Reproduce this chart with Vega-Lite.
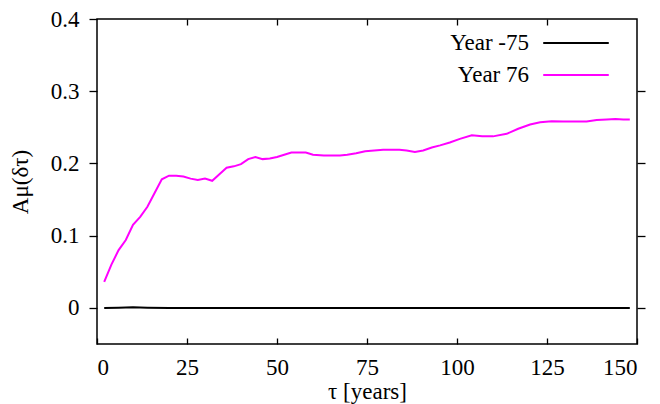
{
  "$schema": "https://vega.github.io/schema/vega-lite/v6.json",
  "width": 540,
  "height": 325,
  "autosize": {"type": "none"},
  "padding": {"left": 97, "top": 19, "right": 23, "bottom": 60},
  "background": "white",
  "config": {
    "font": "Liberation Serif",
    "view": {"stroke": "black", "strokeWidth": 1.5},
    "axis": {
      "domain": false,
      "grid": false,
      "tickColor": "black",
      "tickWidth": 1.3,
      "labelFont": "Liberation Serif",
      "labelFontSize": 23,
      "labelColor": "black",
      "titleFont": "Liberation Serif",
      "titleFontSize": 23,
      "titleFontWeight": "normal",
      "titleColor": "black"
    },
    "legend": {"labelFont": "Liberation Serif"}
  },
  "datasets": {
    "curves": [
      {"tau": 2, "A": 0.0, "series": "Year -75"},
      {"tau": 6, "A": 0.0003, "series": "Year -75"},
      {"tau": 10, "A": 0.0008, "series": "Year -75"},
      {"tau": 14, "A": 0.0003, "series": "Year -75"},
      {"tau": 20, "A": 0.0, "series": "Year -75"},
      {"tau": 40, "A": 0.0, "series": "Year -75"},
      {"tau": 60, "A": 0.0, "series": "Year -75"},
      {"tau": 80, "A": 0.0, "series": "Year -75"},
      {"tau": 100, "A": 0.0, "series": "Year -75"},
      {"tau": 120, "A": 0.0, "series": "Year -75"},
      {"tau": 148, "A": 0.0, "series": "Year -75"},
      {"tau": 2, "A": 0.036, "series": "Year 76"},
      {"tau": 4, "A": 0.060, "series": "Year 76"},
      {"tau": 6, "A": 0.080, "series": "Year 76"},
      {"tau": 8, "A": 0.094, "series": "Year 76"},
      {"tau": 10, "A": 0.115, "series": "Year 76"},
      {"tau": 12, "A": 0.126, "series": "Year 76"},
      {"tau": 14, "A": 0.140, "series": "Year 76"},
      {"tau": 16, "A": 0.159, "series": "Year 76"},
      {"tau": 18, "A": 0.178, "series": "Year 76"},
      {"tau": 20, "A": 0.183, "series": "Year 76"},
      {"tau": 22, "A": 0.183, "series": "Year 76"},
      {"tau": 24, "A": 0.182, "series": "Year 76"},
      {"tau": 26, "A": 0.179, "series": "Year 76"},
      {"tau": 28, "A": 0.177, "series": "Year 76"},
      {"tau": 30, "A": 0.179, "series": "Year 76"},
      {"tau": 32, "A": 0.176, "series": "Year 76"},
      {"tau": 34, "A": 0.185, "series": "Year 76"},
      {"tau": 36, "A": 0.194, "series": "Year 76"},
      {"tau": 38, "A": 0.196, "series": "Year 76"},
      {"tau": 40, "A": 0.199, "series": "Year 76"},
      {"tau": 42, "A": 0.206, "series": "Year 76"},
      {"tau": 44, "A": 0.209, "series": "Year 76"},
      {"tau": 46, "A": 0.206, "series": "Year 76"},
      {"tau": 48, "A": 0.207, "series": "Year 76"},
      {"tau": 50, "A": 0.209, "series": "Year 76"},
      {"tau": 52, "A": 0.212, "series": "Year 76"},
      {"tau": 54, "A": 0.215, "series": "Year 76"},
      {"tau": 56, "A": 0.215, "series": "Year 76"},
      {"tau": 58, "A": 0.215, "series": "Year 76"},
      {"tau": 60, "A": 0.212, "series": "Year 76"},
      {"tau": 63, "A": 0.211, "series": "Year 76"},
      {"tau": 65, "A": 0.211, "series": "Year 76"},
      {"tau": 67.5, "A": 0.211, "series": "Year 76"},
      {"tau": 69.5, "A": 0.212, "series": "Year 76"},
      {"tau": 72, "A": 0.214, "series": "Year 76"},
      {"tau": 74.5, "A": 0.217, "series": "Year 76"},
      {"tau": 77, "A": 0.218, "series": "Year 76"},
      {"tau": 79.5, "A": 0.219, "series": "Year 76"},
      {"tau": 82, "A": 0.219, "series": "Year 76"},
      {"tau": 84, "A": 0.219, "series": "Year 76"},
      {"tau": 86, "A": 0.218, "series": "Year 76"},
      {"tau": 88.3, "A": 0.216, "series": "Year 76"},
      {"tau": 90.6, "A": 0.218, "series": "Year 76"},
      {"tau": 93, "A": 0.222, "series": "Year 76"},
      {"tau": 95.3, "A": 0.225, "series": "Year 76"},
      {"tau": 98, "A": 0.229, "series": "Year 76"},
      {"tau": 100.8, "A": 0.234, "series": "Year 76"},
      {"tau": 104.1, "A": 0.239, "series": "Year 76"},
      {"tau": 107, "A": 0.2375, "series": "Year 76"},
      {"tau": 110, "A": 0.2375, "series": "Year 76"},
      {"tau": 113.8, "A": 0.241, "series": "Year 76"},
      {"tau": 117, "A": 0.248, "series": "Year 76"},
      {"tau": 120.3, "A": 0.254, "series": "Year 76"},
      {"tau": 123.1, "A": 0.257, "series": "Year 76"},
      {"tau": 126.3, "A": 0.2585, "series": "Year 76"},
      {"tau": 129.5, "A": 0.258, "series": "Year 76"},
      {"tau": 132.8, "A": 0.258, "series": "Year 76"},
      {"tau": 136, "A": 0.258, "series": "Year 76"},
      {"tau": 138.8, "A": 0.260, "series": "Year 76"},
      {"tau": 141.6, "A": 0.261, "series": "Year 76"},
      {"tau": 144, "A": 0.2615, "series": "Year 76"},
      {"tau": 146.2, "A": 0.261, "series": "Year 76"},
      {"tau": 148, "A": 0.261, "series": "Year 76"}
    ]
  },
  "data": {"name": "curves"},
  "layer": [
    {
      "mark": {"type": "line", "strokeWidth": 2, "clip": true},
      "encoding": {
        "x": {
          "field": "tau", "type": "quantitative",
          "scale": {"domain": [0, 150], "nice": false, "zero": false},
          "axis": {"orient": "bottom", "values": [0, 25, 50, 75, 100, 125, 150], "tickSize": -6, "labelPadding": 18, "title": "τ [years]", "titlePadding": 1}
        },
        "y": {
          "field": "A", "type": "quantitative",
          "scale": {"domain": [-0.05, 0.4], "nice": false, "zero": false},
          "axis": {"orient": "left", "values": [0, 0.1, 0.2, 0.3, 0.4], "format": ".1~f", "tickSize": 8, "labelPadding": 10, "title": "Aμ(δτ)", "titlePadding": 18}
        },
        "color": {
          "field": "series", "type": "nominal",
          "scale": {"domain": ["Year -75", "Year 76"], "range": ["black", "#ff00ff"]},
          "legend": {
            "orient": "none",
            "legendX": 466.5,
            "legendY": 11.5,
            "title": null,
            "padding": 0,
            "symbolType": "M-2.85,0H2.85",
            "symbolSize": 529,
            "symbolStrokeWidth": 2,
            "labelAlign": "right",
            "labelOffset": -59.5,
            "labelFontSize": 23,
            "labelFont": "Liberation Serif",
            "labelColor": "black",
            "rowPadding": 7
          }
        }
      }
    },
    {
      "mark": {"type": "line", "strokeOpacity": 0},
      "encoding": {
        "x": {"field": "tau", "type": "quantitative", "axis": {"orient": "top", "values": [25, 50, 75, 100, 125], "tickSize": -6, "labels": false, "title": null}},
        "y": {"field": "A", "type": "quantitative", "axis": {"orient": "right", "values": [0, 0.1, 0.2, 0.3], "tickSize": 8, "labels": false, "title": null}},
        "detail": {"field": "series"}
      }
    }
  ],
  "resolve": {"axis": {"x": "independent", "y": "independent"}}
}
